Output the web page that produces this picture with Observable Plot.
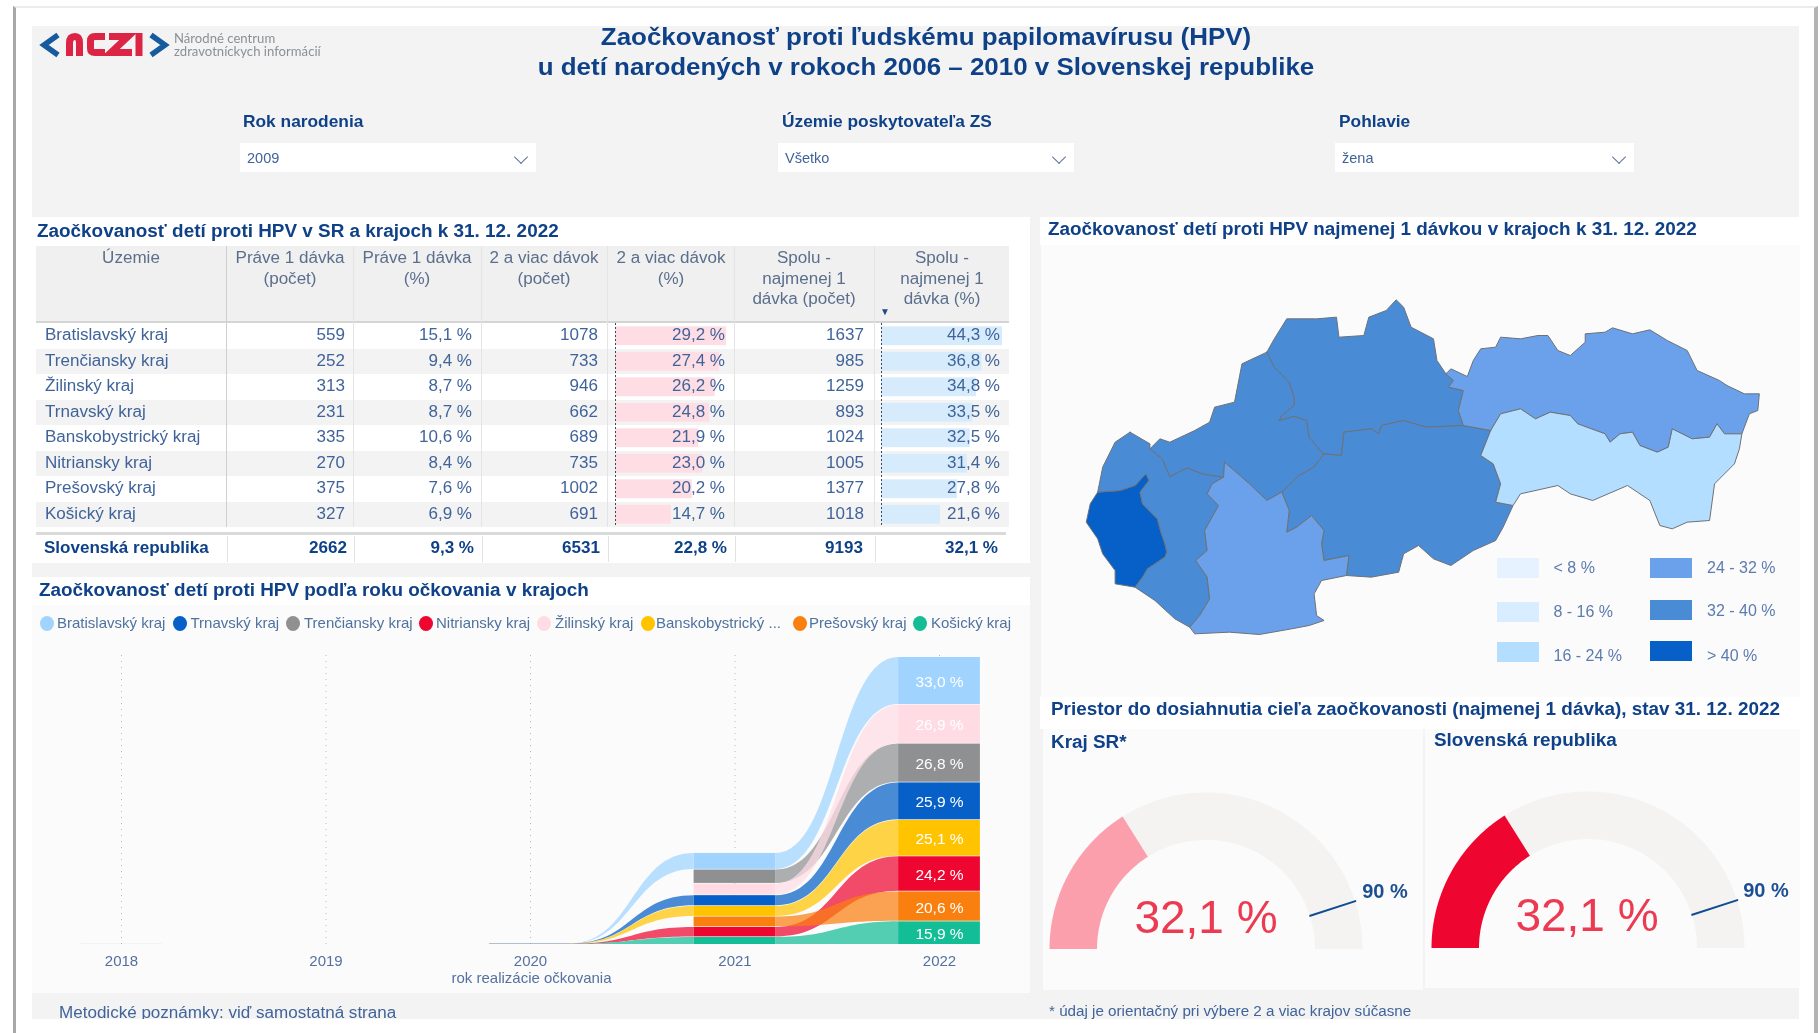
<!DOCTYPE html>
<html lang="sk">
<head>
<meta charset="utf-8">
<title>Zaočkovanosť proti HPV</title>
<script src="https://cdn.jsdelivr.net/npm/d3@7"></script>
<script src="https://cdn.jsdelivr.net/npm/@observablehq/plot@0.6"></script>
<style>
html,body{margin:0;padding:0;background:#fff;width:1820px;height:1033px;overflow:hidden;font-family:"Liberation Sans",Arial,sans-serif}
#root{position:absolute;left:0;top:0;width:1820px;height:1033px;overflow:hidden;filter:blur(0.45px)}
#root>*{position:absolute}
.t{white-space:nowrap;line-height:1}
.plotbox svg{display:block;background:transparent;overflow:visible}
</style>
</head>
<body>
<div id="root"></div>
<script>
// ---------- DATA ----------
const titleLines = ["Zaočkovanosť proti ľudskému papilomavírusu (HPV)", "u detí narodených v rokoch 2006 – 2010 v Slovenskej republike"];
const tableRegions = ["Bratislavský kraj","Trenčiansky kraj","Žilinský kraj","Trnavský kraj","Banskobystrický kraj","Nitriansky kraj","Prešovský kraj","Košický kraj"];
const oneDoseCount = [559,252,313,231,335,270,375,327];
const oneDosePct = [15.1,9.4,8.7,8.7,10.6,8.4,7.6,6.9];
const twoDoseCount = [1078,733,946,662,689,735,1002,691];
const twoDosePct = [29.2,27.4,26.2,24.8,21.9,23.0,20.2,14.7];
const totalCount = [1637,985,1259,893,1024,1005,1377,1018];
const totalPct = [44.3,36.8,34.8,33.5,32.5,31.4,27.8,21.6];
const nationalRow = ["Slovenská republika","2662","9,3 %","6531","22,8 %","9193","32,1 %"];
const tableHeaders = [["Územie"],["Práve 1 dávka","(počet)"],["Práve 1 dávka","(%)"],["2 a viac dávok","(počet)"],["2 a viac dávok","(%)"],["Spolu -","najmenej 1","dávka (počet)"],["Spolu -","najmenej 1","dávka (%)"]];

const years = [2018,2019,2020,2021,2022];
const chartRegions = ["Bratislavský kraj","Trnavský kraj","Trenčiansky kraj","Nitriansky kraj","Žilinský kraj","Banskobystrický kraj","Prešovský kraj","Košický kraj"];
const legendLabels = ["Bratislavský kraj","Trnavský kraj","Trenčiansky kraj","Nitriansky kraj","Žilinský kraj","Banskobystrický ...","Prešovský kraj","Košický kraj"];
const chartColors = ["#a0d4ff","#0660c8","#8e9092","#ee0530","#ffdce4","#ffc300","#f9800f","#13bd96"];
const bratislavaByYear = [0.03,0,0.2,11.2,33.0];
const trnavaByYear = [0.01,0,0.15,7.1,25.9];
const trencinByYear = [0.01,0,0,9.4,26.8];
const nitraByYear = [0.01,0,0.1,6.6,24.2];
const zilinaByYear = [0.01,0,0,7.7,26.9];
const bystricaByYear = [0.01,0,0.12,7.0,25.1];
const presovByYear = [0.01,0,0,6.9,20.6];
const kosiceByYear = [0.01,0,0.06,4.9,15.9];
const ribbonGapByYear = [0,0,0,0.45,0.45];

const mapBreaks = [8,16,24,32,40];
const mapColors = ["#e6f2ff","#d8edff","#b3deff","#6aa1ea","#4a8bd6","#0660c8"];
const mapLegend = ["< 8 %","8 - 16 %","16 - 24 %","24 - 32 %","32 - 40 %","> 40 %"];

// Traced region outlines.
const outlineBratislava = [[115,845],[160,840],[190,825],[212,790],[218,810],[200,845],[205,880],[235,925],[242,965],[250,1000],[254,1025],[250,1040],[215,1075],[205,1100],[190,1130],[150,1120],[150,1080],[125,1030],[115,985],[92,935],[100,880],[115,845]];
const outlineTrnava = [[180,665],[220,700],[220,715],[245,745],[260,798],[295,772],[325,790],[368,800],[345,820],[335,850],[358,885],[330,960],[335,1020],[312,1050],[335,1100],[340,1165],[320,1215],[300,1250],[270,1225],[230,1170],[190,1130],[205,1100],[215,1075],[250,1040],[254,1025],[250,1000],[242,965],[235,925],[205,880],[200,845],[218,810],[212,790],[190,825],[160,840],[115,845],[125,770],[150,695],[180,665]];
const outlineTrencin = [[455,425],[470,470],[500,515],[510,560],[510,585],[485,615],[480,630],[510,617],[535,630],[540,680],[565,725],[570,730],[550,770],[520,795],[485,845],[455,870],[420,820],[370,755],[368,800],[325,790],[295,772],[260,798],[245,745],[220,715],[240,685],[260,695],[310,660],[340,635],[350,590],[390,575],[405,460],[455,425]];
const outlineZilina = [[455,425],[470,385],[495,325],[555,325],[595,320],[600,380],[650,375],[660,320],[695,300],[715,268],[730,290],[745,350],[790,385],[797,450],[815,490],[830,510],[820,530],[850,540],[840,600],[850,645],[775,650],[730,630],[685,645],[680,670],[665,655],[610,665],[605,735],[570,730],[565,725],[540,680],[535,630],[510,617],[480,630],[485,615],[510,585],[510,560],[500,515],[470,470],[455,425]];
const outlineBystrica = [[570,730],[605,735],[610,665],[665,655],[680,670],[685,645],[730,630],[775,650],[850,645],[905,660],[885,735],[910,760],[925,820],[915,875],[950,885],[930,950],[915,990],[870,1020],[825,1065],[790,1045],[760,1005],[730,1030],[720,1085],[665,1100],[615,1095],[620,1035],[570,1050],[565,1000],[570,960],[545,915],[515,950],[495,965],[500,900],[485,845],[520,795],[550,770],[570,730]];
const outlineNitra = [[370,755],[420,820],[455,870],[485,845],[500,900],[495,965],[515,950],[545,915],[570,960],[565,1000],[570,1050],[620,1035],[615,1095],[565,1110],[550,1150],[555,1215],[570,1230],[540,1245],[505,1255],[440,1272],[380,1265],[310,1270],[300,1250],[320,1215],[340,1165],[335,1100],[312,1050],[335,1020],[330,960],[358,885],[335,850],[345,820],[368,800],[370,755]];
const outlinePresov = [[815,490],[825,475],[858,498],[870,450],[885,415],[915,410],[925,380],[965,385],[1000,375],[1020,375],[1040,420],[1065,435],[1095,395],[1095,370],[1135,365],[1150,352],[1190,370],[1225,358],[1260,390],[1300,420],[1320,480],[1365,510],[1380,525],[1415,550],[1445,550],[1442,600],[1425,610],[1410,670],[1375,670],[1360,640],[1345,680],[1310,685],[1270,655],[1262,710],[1240,725],[1205,705],[1190,665],[1165,670],[1145,695],[1135,670],[1080,640],[1065,615],[1025,605],[995,625],[965,595],[925,610],[905,660],[850,645],[840,600],[850,540],[820,530],[830,510],[815,490]];
const outlineKosice = [[905,660],[925,610],[965,595],[995,625],[1025,605],[1065,615],[1080,640],[1135,670],[1145,695],[1165,670],[1190,665],[1205,705],[1240,725],[1262,710],[1270,655],[1310,685],[1345,680],[1360,640],[1375,670],[1410,670],[1405,715],[1395,760],[1355,820],[1345,930],[1300,935],[1270,955],[1245,945],[1225,870],[1180,825],[1110,870],[1065,850],[1040,825],[965,850],[950,885],[915,875],[925,820],[910,760],[885,735],[905,660]];

const gaugeValue = 32.1;
const gaugeTarget = 90;
const gaugeMax = 100;
const gaugeLabel = "32,1 %";
const gaugeTargetLabel = "90 %";

// ---------- HELPERS ----------
const root = document.getElementById("root");
const NAVY = "#0f4188", BODY = "#40649a", GREY = "#5b6f8c";
const fontFamily = '"Liberation Sans", Arial, sans-serif';
function box(x, y, w, h, bg, extra) {
  const d = document.createElement("div");
  d.style.cssText = `left:${x}px;top:${y}px;width:${w}px;height:${h}px;background:${bg};${extra || ""}`;
  root.appendChild(d);
  return d;
}
function text(s, x, y, o = {}) {
  const d = document.createElement("div");
  d.className = "t";
  d.textContent = s;
  const tx = o.align === "right" ? "-100%" : o.align === "center" ? "-50%" : "0";
  const sx = o.sx ? ` scaleX(${o.sx})` : "";
  d.style.cssText = `left:${x}px;top:${y}px;font-size:${o.size || 15}px;font-weight:${o.weight || 400};color:${o.color || BODY};transform-origin:${o.align === "right" ? "100%" : o.align === "center" ? "50%" : "0"} 50%;transform:translate(${tx},-50%)${sx};font-family:${o.font || fontFamily};${o.extra || ""}`;
  root.appendChild(d);
  return d;
}
function place(svg, x, y) {
  const d = document.createElement("div");
  d.className = "plotbox";
  d.style.cssText = `left:${x}px;top:${y}px`;
  d.appendChild(svg);
  root.appendChild(d);
}
const pct = v => v.toFixed(1).replace(".", ",") + " %";
const heading = {size: 18, sx: 1.05, weight: 700, color: NAVY};
const cell = {size: 16, sx: 1.065};

// ---------- PAGE FRAME ----------
box(13, 6, 1805, 1040, "#fff", "box-sizing:border-box;border-left:3px solid #a8a8a8;border-right:4px solid #b4b4b4;border-top:2px solid #ececec;");
box(32, 26, 1767, 993, "#f3f3f3");

// header
const logo = document.createElementNS("http://www.w3.org/2000/svg", "svg");
logo.setAttribute("width", 150); logo.setAttribute("height", 40);
logo.style.cssText = "left:38px;top:26px;overflow:visible";
logo.innerHTML = `<polyline points="20,9 6,19 20,29" fill="none" stroke="#155b9e" stroke-width="5.5"/>
<polyline points="113,9 127,19 113,29" fill="none" stroke="#155b9e" stroke-width="5.5"/>
<g fill="none" stroke="#dc2444" stroke-width="7">
<path d="M31.5,30 V17 Q31.5,10.5 37,10.5 Q41.5,10.5 41.5,17 V30"/>
<path d="M67,10.5 H57 Q52.5,10.5 52.5,15 V22.5 Q52.5,26.5 57,26.5 H67"/>
<path d="M71,10.5 H90 L73,26.5 H94"/>
<path d="M101,7 V30"/>
</g>`;
root.appendChild(logo);
text("Národné centrum", 174, 38, {size:13, sx:1.01, color:"#8b9095", font:"Lato,sans-serif"});
text("zdravotníckych informácií", 174, 51, {size:13, sx:1.01, color:"#8b9095", font:"Lato,sans-serif"});
text(titleLines[0], 926, 37, {size:24, sx:1.08, weight:700, color:NAVY, align:"center"});
text(titleLines[1], 926, 67, {size:24, sx:1.08, weight:700, color:NAVY, align:"center"});

const slicers = [
  {label:"Rok narodenia", value:"2009", x:240, w:296, lx:243},
  {label:"Územie poskytovateľa ZS", value:"Všetko", x:778, w:296, lx:782},
  {label:"Pohlavie", value:"žena", x:1335, w:299, lx:1339}
];
for (const s of slicers) {
  text(s.label, s.lx, 121, {size:16.5, sx:1.05, weight:700, color:NAVY});
  box(s.x, 143, s.w, 29, "#fff");
  text(s.value, s.x + 7, 158, {size:14.5, color:BODY});
  box(s.x + s.w - 20, 152, 10, 10, "transparent", "box-sizing:border-box;border-right:1px solid #5f7391;border-bottom:1px solid #5f7391;transform:rotate(45deg);");
}

// ---------- TABLE ----------
box(32, 217, 998, 346, "#fff");
text("Zaočkovanosť detí proti HPV v SR a krajoch k 31. 12. 2022", 37, 231, heading);
const colX = [36,226,353,481,607,734,874,1009];
box(36, 246, 973, 76, "#f0f0f0");
box(36, 321, 973, 2, "#d4d4d4");
const rowH = 25.5, rowTop = 323;
tableRegions.forEach((r, i) => { if (i % 2) box(36, rowTop + i * rowH, 973, rowH, "#f3f3f3"); });

function dataBars(values, color, pxMax, maxV) {
  const rows = values.map((v, i) => ({r: tableRegions[i], v}));
  return Plot.plot({
    width: pxMax + 2, height: rowH * 8, margin: 0, marginLeft: 1, marginRight: 1,
    x: {domain: [0, maxV], range: [1, pxMax + 1], axis: null},
    y: {domain: tableRegions, axis: null, paddingInner: 0.26, paddingOuter: 0.13, round: false},
    style: {background: "transparent"},
    marks: [
      Plot.barX(rows, {x: "v", y: "r", fill: color}),
      Plot.ruleX([0], {stroke: "#3c4a5e", strokeWidth: 1, strokeDasharray: "2 2"})
    ]
  });
}
place(dataBars(twoDosePct, "#ffdde4", 111, 29.2), 614, rowTop);
place(dataBars(totalPct, "#d6ecfd", 121, 44.3), 880, rowTop);

for (let c = 1; c < 7; c++) box(colX[c], 246, 1, 281, c === 1 ? "#cfcfcf" : "#e4e4e4");
tableHeaders.forEach((lines, c) => {
  const cx = c === 0 ? 130.5 : (colX[c] + colX[c + 1]) / 2;
  lines.forEach((l, j) => text(l, cx, 258 + j * 20.6, {...cell, color: GREY, align: "center"}));
});
text("▼", 885, 312, {size:10, color:"#1f4a85", align:"center"});

const rightEdges = [345,472,598,725,864,1000];
tableRegions.forEach((r, i) => {
  const y = rowTop + (i + 0.5) * rowH - 0.5;
  text(r, 45, y, cell);
  [String(oneDoseCount[i]), pct(oneDosePct[i]), String(twoDoseCount[i]), pct(twoDosePct[i]), String(totalCount[i]), pct(totalPct[i])]
    .forEach((v, c) => text(v, rightEdges[c], y, {...cell, align: "right"}));
});
box(36, 532, 970, 3, "#dadada");
const totalEdges = [347,474,600,727,862.5,998];
text(nationalRow[0], 44, 548, {...cell, weight: 700, color: NAVY});
nationalRow.slice(1).forEach((v, c) => text(v, totalEdges[c], 548, {...cell, weight: 700, color: NAVY, align: "right"}));
for (let c = 1; c < 7; c++) box(colX[c] + 1, 536, 1, 26, "#e2e2e2");

// ---------- RIBBON CHART ----------
box(32, 577, 998, 28, "#fff");
box(32, 605, 998, 388, "#fbfbfb");
text("Zaočkovanosť detí proti HPV podľa roku očkovania v krajoch", 39, 590, heading);
const legendDots = [47,180,293,426,544,648,800,920];
const legendText = [57,190.5,304,436,555,656,809,931];
legendLabels.forEach((l, i) => {
  box(legendDots[i] - 7, 623 - 7.5, 14, 15, chartColors[i], "border-radius:50%;");
  text(l, legendText[i], 622, {size:15, color:"#4f729f"});
});

const series = [bratislavaByYear, trnavaByYear, trencinByYear, nitraByYear, zilinaByYear, bystricaByYear, presovByYear, kosiceByYear];
// Ribbon ordering: within each year the largest region sits on top.
const columns = [];
years.forEach((year, k) => {
  const order = chartRegions.map((region, i) => ({region, value: series[i][k]})).sort((a, b) => a.value - b.value);
  let base = 0;
  for (const d of order) {
    columns.push({year, region: d.region, value: d.value, y1: base, y2: base + d.value});
    base += d.value + ribbonGapByYear[k];
  }
});
const bandHalf = 0.2;
const ribbons = [];
chartRegions.forEach(region => {
  years.slice(0, -1).forEach((year, k) => {
    const a = columns.find(d => d.year === year && d.region === region);
    const b = columns.find(d => d.year === years[k + 1] && d.region === region);
    if (a.value > 0 && b.value > 0) {
      ribbons.push({seg: region + year, region, x: year + bandHalf, y1: a.y1, y2: a.y2});
      ribbons.push({seg: region + year, region, x: years[k + 1] - bandHalf, y1: b.y1, y2: b.y2});
    }
  });
});
const visible = columns.filter(d => d.value > 0);
const yTop = d3.max(columns, d => d.y2);
place(Plot.plot({
  width: 998, height: 340, marginTop: 17, marginBottom: 36, marginLeft: 0, marginRight: 0,
  style: {background: "transparent", fontFamily, fontSize: "15px"},
  x: {domain: [2018, 2022], range: [89, 907], label: null},
  y: {domain: [0, yTop], axis: null},
  color: {domain: chartRegions, range: chartColors},
  marks: [
    Plot.ruleX(years, {y1: 0, y2: yTop + 1.5, stroke: "#b9b9b9", strokeDasharray: "1 5", strokeWidth: 1}),
    Plot.area(ribbons, {x1: "x", y1: "y1", y2: "y2", z: "seg", fill: "region", fillOpacity: 0.72, curve: "bump-x"}),
    Plot.rect(visible, {x1: d => d.year - bandHalf, x2: d => d.year + bandHalf, y1: "y1", y2: "y2", fill: "region"}),
    Plot.text(columns.filter(d => d.year === 2022), {x: "year", y: d => (d.y1 + d.y2) / 2, text: d => pct(d.value), fill: "#fff", fontSize: 15.5, dy: 1}),
    Plot.axisX({ticks: years, tickFormat: "d", tickSize: 0, tickPadding: 11, fontSize: 15, color: "#5570a0", label: "rok realizácie očkovania", labelAnchor: "center", labelArrow: "none", labelOffset: 38})
  ]
}), 32, 640);

text("Metodické poznámky: viď samostatná strana", 59, 1013, {size:16, sx:1.065, color:BODY});
box(0, 1019, 1812, 14, "#fff");
box(13, 1019, 3, 14, "#a8a8a8");

// ---------- MAP ----------
box(1040, 217, 760, 28, "#fff");
box(1041, 245, 759, 452, "#fbfbfb");
text("Zaočkovanosť detí proti HPV najmenej 1 dávkou v krajoch k 31. 12. 2022", 1048, 229, heading);
const mapOutlines = [
  ["Bratislavský kraj", outlineBratislava], ["Trnavský kraj", outlineTrnava], ["Trenčiansky kraj", outlineTrencin],
  ["Žilinský kraj", outlineZilina], ["Banskobystrický kraj", outlineBystrica], ["Nitriansky kraj", outlineNitra],
  ["Prešovský kraj", outlinePresov], ["Košický kraj", outlineKosice]
];
const mapPoints = mapOutlines.flatMap(([name, pts]) => pts.map(([x, y]) => ({name, x, y, value: totalPct[tableRegions.indexOf(name)]})));
place(Plot.plot({
  width: 780, height: 480, margin: 0,
  x: {domain: [0, 1568], range: [0, 780], axis: null},
  y: {domain: [0, 1440], range: [0, 480], axis: null},
  color: {type: "threshold", domain: mapBreaks, range: mapColors},
  style: {background: "transparent"},
  marks: [Plot.line(mapPoints, {x: "x", y: "y", z: "name", fill: "value", stroke: "#6d7278", strokeWidth: 1})]
}), 1040, 210);
const swX = [1497, 1497, 1497, 1650, 1650, 1650], swY = [558, 602, 642, 558, 600, 641];
const lbX = [1553.5, 1553.5, 1553.5, 1707, 1707, 1707], lbY = [568, 612, 656, 568, 611, 656];
mapLegend.forEach((l, i) => {
  box(swX[i], swY[i], 42, 20, mapColors[i]);
  text(l, lbX[i], lbY[i], {size:16, color:"#5c7bae"});
});

// ---------- GAUGES ----------
box(1040, 697, 760, 32, "#fff");
box(1043, 729, 380, 261, "#fbfbfb");
box(1425, 729, 375, 259, "#fbfbfb");
text("Priestor do dosiahnutia cieľa zaočkovanosti (najmenej 1 dávka), stav 31. 12. 2022", 1051, 709, heading);
text("Kraj SR*", 1051, 742, heading);
text("Slovenská republika", 1434, 740, heading);

const R = 156.5, r = 109;
function arc(from, to) {
  const out = [];
  for (let p = from; p <= to + 1e-9; p += (to - from) / 90) {
    const a = Math.PI * (1 - p / gaugeMax);
    out.push({x1: r * Math.cos(a), y1: r * Math.sin(a), x2: R * Math.cos(a), y2: R * Math.sin(a)});
  }
  return out;
}
function gauge(color) {
  const a = Math.PI * (1 - gaugeTarget / gaugeMax);
  return Plot.plot({
    width: 340, height: 180, margin: 0,
    x: {domain: [-170, 170], range: [0, 340], axis: null},
    y: {domain: [0, 180], range: [180, 0], axis: null},
    style: {background: "transparent"},
    marks: [
      Plot.area(arc(gaugeValue, gaugeMax), {x1: "x1", y1: "y1", x2: "x2", y2: "y2", fill: "#f4f3f2"}),
      Plot.area(arc(0, gaugeValue), {x1: "x1", y1: "y1", x2: "x2", y2: "y2", fill: color}),
      Plot.line([{x: r * Math.cos(a), y: r * Math.sin(a)}, {x: R * Math.cos(a), y: R * Math.sin(a)}], {x: "x", y: "y", stroke: "#0f4c92", strokeWidth: 2})
    ]
  });
}
place(gauge("#fb9fad"), 1036, 769);
place(gauge("#ee0530"), 1418, 768);
text(gaugeLabel, 1206, 917, {size:46, color:"#ec3a52", align:"center"});
text(gaugeLabel, 1587, 915, {size:46, color:"#ec3a52", align:"center"});
text(gaugeTargetLabel, 1385, 891, {size:20, weight:700, color:"#1b4f92", align:"center"});
text(gaugeTargetLabel, 1766, 890, {size:20, weight:700, color:"#1b4f92", align:"center"});
text("* údaj je orientačný pri výbere 2 a viac krajov súčasne", 1049, 1011, {size:15.2, color:BODY});
</script>
</body>
</html>
